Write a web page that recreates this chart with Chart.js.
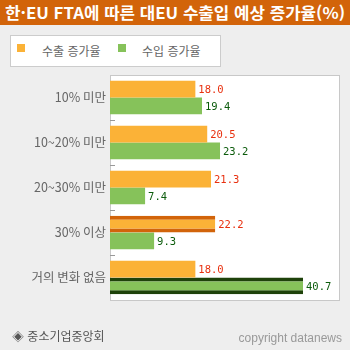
<!DOCTYPE html>
<html lang="ko">
<head>
<meta charset="utf-8">
<script src="https://cdn.jsdelivr.net/npm/chart.js@4"></script>
<style>
  html, body { margin: 0; padding: 0; }
  body { width: 350px; height: 350px; background: #eeeeee; position: relative; overflow: hidden;
         font-family: "Noto Sans CJK KR", "Noto Sans", sans-serif; }
  #title { position: absolute; left: 0; top: 0; width: 350px; height: 25px; background: #d2640a; }
  #title span { position: absolute; left: 5px; top: 3px; color: #fff; font-size: 16px; font-weight: bold;
                line-height: 18px; white-space: nowrap; transform-origin: 0 0; }
  #legend { position: absolute; left: 10px; top: 35px; width: 211px; height: 32px; box-sizing: border-box;
            border: 1px solid #cccccc; background: #fff; }
  .lg { position: absolute; top: 0; height: 30px; font-size: 12px; line-height: 30px; color: #666; white-space: nowrap; }
  .lg i { position: absolute; top: 8px; width: 8px; height: 8px; }
  .lg b { position: absolute; top: 0; font-weight: normal; }
  #src { position: absolute; left: 12px; top: 328px; font-size: 12px; line-height: 16px; color: #555; }
  #copy { position: absolute; right: 8px; top: 330px; font-size: 12px; line-height: 16px; color: #999;
          font-family: "Liberation Sans", Arial, sans-serif; }
  canvas { position: absolute; left: 0; top: 0; }
</style>
</head>
<body>
<div id="title"><span id="titleText">한·EU FTA에 따른 대EU 수출입 예상 증가율(%)</span></div>
<div id="legend"></div>
<canvas id="chart" width="350" height="350"></canvas>
<div id="src">◈ 중소기업중앙회</div>
<div id="copy">copyright datanews</div>
<script>
// Survey answer groups and the expected growth rates (%) for each
const categories = ['10% 미만', '10~20% 미만', '20~30% 미만', '30% 이상', '거의 변화 없음'];
const seriesNames = ['수출 증가율', '수입 증가율'];
const exportGrowth = [18.0, 20.5, 21.3, 22.2, 18.0];
const importGrowth = [19.4, 23.2, 7.4, 9.3, 40.7];
// index of the answer group emphasised in each series
const exportHighlight = 3;
const importHighlight = 4;

const ORANGE = '#fbb237', ORANGE_DARK = '#d2640a';
const GREEN = '#86c25a', GREEN_DARK = '#1e420a';
const LABEL_COLORS = ['#e8300f', '#0b5b0b'];

// fit title to the header width
(function () {
  const t = document.getElementById('titleText');
  const w = t.getBoundingClientRect().width;
  t.style.transform = 'scaleX(' + (340 / w) + ')';
})();

// legend built from the series names
(function () {
  const lg = document.getElementById('legend');
  const pos = [[6, 31], [107, 131]];
  [ORANGE, GREEN].forEach((c, i) => {
    const d = document.createElement('div');
    d.className = 'lg';
    d.style.left = '0px';
    d.innerHTML = '<i style="left:' + pos[i][0] + 'px;background:' + c + '"></i><b style="left:' + pos[i][1] + 'px">' + seriesNames[i] + '</b>';
    lg.appendChild(d);
  });
})();

const emphasis = (idx) => categories.map((_, i) => i === idx ? { top: 4, bottom: 4, left: 0, right: 0 } : 0);

// plot frame and the small dashes between answer groups
const framePlugin = {
  id: 'frame',
  beforeDatasetsDraw(chart) {
    const { ctx, chartArea: a, scales: { y } } = chart;
    ctx.save();
    ctx.fillStyle = '#ffffff';
    ctx.fillRect(a.left, a.top, a.right - a.left, a.bottom - a.top);
    ctx.strokeStyle = '#c8c8c8';
    ctx.lineWidth = 1;
    ctx.strokeRect(a.left + 0.5, a.top + 0.5, a.right - a.left - 1, a.bottom - a.top);
    ctx.beginPath();
    ctx.moveTo(a.left, a.bottom + 0.5);
    ctx.lineTo(a.right, a.bottom + 0.5);
    ctx.stroke();
    ctx.strokeStyle = '#999999';
    for (let i = 1; i < categories.length; i++) {
      const yy = Math.round((y.getPixelForValue(i - 1) + y.getPixelForValue(i)) / 2) + 0.5;
      ctx.beginPath();
      ctx.moveTo(a.left, yy);
      ctx.lineTo(a.left + 5, yy);
      ctx.stroke();
    }
    ctx.restore();
  }
};

// value text at the end of every bar
const valuePlugin = {
  id: 'values',
  afterDatasetsDraw(chart) {
    const { ctx } = chart;
    ctx.save();
    ctx.font = '10.5px "DejaVu Sans Mono", monospace';
    ctx.textAlign = 'left';
    ctx.textBaseline = 'middle';
    chart.data.datasets.forEach((ds, di) => {
      ctx.fillStyle = LABEL_COLORS[di];
      chart.getDatasetMeta(di).data.forEach((bar, i) => {
        ctx.fillText(ds.data[i].toFixed(1), bar.x + 3, bar.y + 1);
      });
    });
    ctx.restore();
  }
};

new Chart(document.getElementById('chart'), {
  type: 'bar',
  data: {
    labels: categories,
    datasets: [
      { label: seriesNames[0], data: exportGrowth, backgroundColor: ORANGE,
        borderColor: ORANGE_DARK, borderWidth: emphasis(exportHighlight), borderSkipped: false },
      { label: seriesNames[1], data: importGrowth, backgroundColor: GREEN,
        borderColor: GREEN_DARK, borderWidth: emphasis(importHighlight), borderSkipped: false }
    ]
  },
  options: {
    indexAxis: 'y',
    responsive: false,
    animation: false,
    events: [],
    layout: { padding: { top: 75, bottom: 50, left: 0, right: 10 } },
    datasets: { bar: { categoryPercentage: 0.74, barPercentage: 1.0 } },
    scales: {
      x: { display: false, min: 0, max: 48.5 },
      y: {
        afterFit(s) { s.width = 110; },
        grid: { display: false, drawTicks: false },
        border: { display: false },
        ticks: { color: '#666666', padding: 4,
                 font: { family: '"Noto Sans CJK KR", sans-serif', size: 12.5 } }
      }
    },
    plugins: { legend: { display: false }, tooltip: { enabled: false } }
  },
  plugins: [framePlugin, valuePlugin]
});
</script>
</body>
</html>
